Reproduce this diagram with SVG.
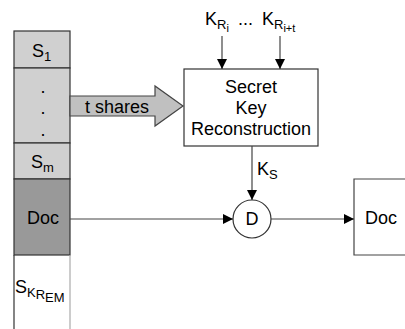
<svg xmlns="http://www.w3.org/2000/svg" width="405" height="329" viewBox="0 0 405 329">
<defs>
<style>
text{font-family:"Liberation Sans",Arial,sans-serif;font-size:18px;fill:#000}
.sub{font-size:13px}
.ss{font-size:11px}
.cell{stroke:#333;stroke-width:1.2}
.ln{stroke:#444;stroke-width:1.2;fill:none}
</style>
<marker id="ah" viewBox="0 0 10 10" refX="10" refY="5" markerWidth="10" markerHeight="10" markerUnits="userSpaceOnUse" orient="auto">
<path d="M0,0 L10,5 L0,10 z" fill="#000"/>
</marker>
</defs>
<rect width="405" height="329" fill="#fff"/>
<g id="column">
<rect class="cell" x="14" y="31" width="56" height="37" fill="#d0d0d0"/>
<rect class="cell" x="14" y="68" width="56" height="75" fill="#d0d0d0"/>
<rect class="cell" x="14" y="143" width="56" height="36" fill="#d0d0d0"/>
<rect class="cell" x="14" y="179" width="56" height="76" fill="#999"/>
<path d="M14,255 V329" stroke="#333" stroke-width="1.2"/>
<path d="M70,255 V329" stroke="#aaa" stroke-width="1.2"/>
<text x="32" y="57">S<tspan class="sub" dy="4">1</tspan></text>
<text x="43" y="93" text-anchor="middle">.</text>
<text x="43" y="114" text-anchor="middle">.</text>
<text x="43" y="136" text-anchor="middle">.</text>
<text x="31" y="168">S<tspan class="sub" dy="4">m</tspan></text>
<text x="43" y="224" text-anchor="middle">Doc</text>
<text x="15" y="293">S<tspan class="sub" dy="4">K</tspan><tspan class="sub" dy="2">R</tspan><tspan class="sub" dy="3">EM</tspan></text>
</g>
<g id="shares">
<path d="M70,96 H155 V86 L183,106 L155,126 V116 H70 Z" fill="#c0c0c0" stroke="#444" stroke-width="1.2"/>
<text x="117" y="113" text-anchor="middle">t shares</text>
</g>
<g id="skr">
<rect x="184" y="69" width="134" height="77" fill="#fff" stroke="#333" stroke-width="1.2"/>
<text x="251" y="93" text-anchor="middle">Secret</text>
<text x="251" y="114" text-anchor="middle">Key</text>
<text x="251" y="135" text-anchor="middle">Reconstruction</text>
</g>
<g id="keys">
<text x="205" y="25">K<tspan class="sub" dy="4">R</tspan><tspan class="ss" dy="3">i</tspan></text>
<text x="238" y="25">...</text>
<text x="262" y="25">K<tspan class="sub" dy="4">R</tspan><tspan class="ss" dy="3">i+t</tspan></text>
</g>
<g id="D">
<circle cx="252" cy="219" r="19" fill="#fff" stroke="#333" stroke-width="1.2"/>
<text x="252" y="225" text-anchor="middle">D</text>
</g>
<g id="docout">
<path d="M405,179 H354 V255 H405" fill="#fff" stroke="#444" stroke-width="1.2"/>
<text x="365" y="224">Doc</text>
</g>
<g id="connectors">
<path class="ln" d="M222,36 V69" marker-end="url(#ah)"/>
<path class="ln" d="M280,36 V69" marker-end="url(#ah)"/>
<path class="ln" d="M252,146 V200" marker-end="url(#ah)"/>
<path class="ln" d="M70,219 H233" marker-end="url(#ah)"/>
<path class="ln" d="M271,219 H354" marker-end="url(#ah)"/>
<text x="257" y="175">K<tspan class="sub" dy="4">S</tspan></text>
</g>
</svg>
